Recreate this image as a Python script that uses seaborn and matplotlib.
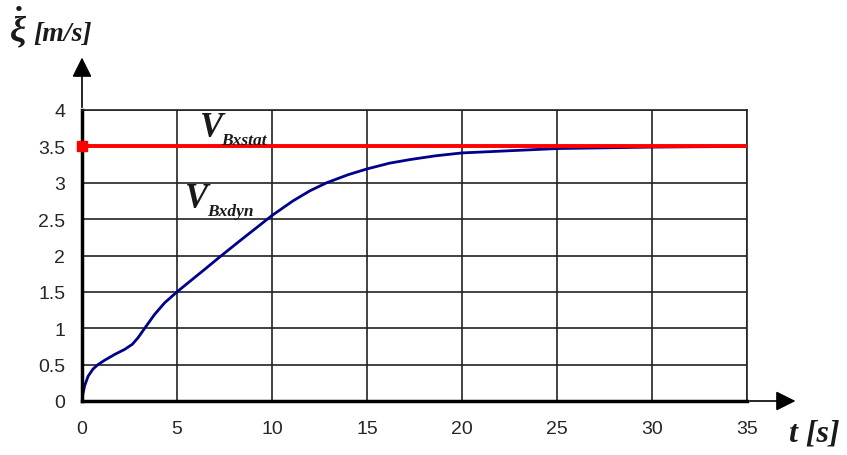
import numpy as np
import pandas as pd
import matplotlib
matplotlib.use("Agg")
import matplotlib.pyplot as plt
import seaborn as sns

# data
t = [0, 0.05, 0.14, 0.32, 0.58, 0.84, 1.19, 1.72, 2.25, 2.65, 2.95, 3.3, 3.82, 4.35,
     5.0, 5.75, 6.46, 7.25, 8.3, 9.37, 10.0, 11.1, 12.0, 12.88, 14.0, 15.0, 16.2,
     17.3, 18.6, 20.0, 22.5, 25.0, 30.0, 35.0]
v_dyn = [0, 0.1, 0.21, 0.34, 0.44, 0.5, 0.56, 0.64, 0.71, 0.78, 0.87, 1.0, 1.19, 1.35,
         1.5, 1.66, 1.81, 1.98, 2.2, 2.42, 2.55, 2.75, 2.89, 3.0, 3.11, 3.19, 3.27,
         3.32, 3.37, 3.41, 3.44, 3.47, 3.49, 3.5]
t_stat = [0, 35]
v_stat = [3.5, 3.5]
xticks = [0, 5, 10, 15, 20, 25, 30, 35]
yticks = [0, 0.5, 1, 1.5, 2, 2.5, 3, 3.5, 4]

sns.set_style("white")
plt.rcParams['font.family'] = ['Liberation Sans', 'DejaVu Sans']
plt.rcParams['mathtext.fontset'] = 'custom'
plt.rcParams['mathtext.it'] = 'Liberation Serif:italic:bold'
plt.rcParams['mathtext.rm'] = 'Liberation Serif:bold'

fig = plt.figure(figsize=(8.47, 4.56), dpi=100)
ax = fig.add_axes([82 / 847, 1 - 402 / 456, 665 / 847, 291 / 456])

df = pd.DataFrame({'t': t, 'v': v_dyn})
sns.lineplot(data=df, x='t', y='v', color='#00008B', lw=2, ax=ax)
ax.plot(t_stat, v_stat, color='#FF0000', lw=2.8, zorder=4)
ax.plot([t_stat[0]], [v_stat[0]], 's', color='#FF0000', ms=7, zorder=5, clip_on=False)

ax.set_xlim(0, 35)
ax.set_ylim(0, 4)
ax.set_xticks(xticks)
ax.set_yticks(yticks)
ax.set_xticklabels([str(x) for x in xticks], fontsize=14)
ax.set_yticklabels([f'{y:g}' for y in yticks], fontsize=14)
ax.tick_params(axis='x', direction='out', length=5, width=1.5, color='black', pad=9)
ax.tick_params(axis='y', direction='out', length=5, width=1.5, color='black', pad=7)
ax.grid(True, color='#222222', lw=1.2)
ax.set_xlabel('')
ax.set_ylabel('')
for side in ['top', 'right']:
    ax.spines[side].set_linewidth(1.2)
    ax.spines[side].set_color('#222222')
for side in ['left', 'bottom']:
    ax.spines[side].set_linewidth(2.5)
    ax.spines[side].set_color('black')

# axis arrows
ax.annotate('', xy=(0, 4.76), xytext=(0, 4), annotation_clip=False,
            arrowprops=dict(arrowstyle='-|>', mutation_scale=30, color='black', lw=1.2))
ax.annotate('', xy=(37.7, 0), xytext=(35, 0), annotation_clip=False,
            arrowprops=dict(arrowstyle='-|>', mutation_scale=30, color='black', lw=1.2))

serif = dict(family='Liberation Serif', weight='bold', style='italic', color='#1a1a1a')
fig.text(9 / 847, 1 - 41 / 456, r'$\dot{\xi}$', fontsize=26, color='#1a1a1a')
fig.text(33 / 847, 1 - 41 / 456, '[m/s]', fontsize=20, **serif)
fig.text(789 / 847, 1 - 442 / 456, 't [s]', fontsize=23, **serif)

fig.text(200 / 847, 1 - 137 / 456, 'V', fontsize=25, **serif)
fig.text(221 / 847, 1 - 145 / 456, 'Bxstat', fontsize=12.5, **serif)
fig.text(185 / 847, 1 - 208 / 456, 'V', fontsize=25, **serif)
fig.text(207 / 847, 1 - 216 / 456, 'Bxdyn', fontsize=12.5, **serif)

fig.savefig('out.png', dpi=100)
